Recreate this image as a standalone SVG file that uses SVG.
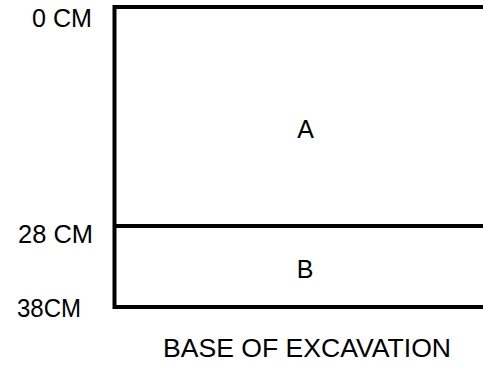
<svg xmlns="http://www.w3.org/2000/svg" width="483" height="366" viewBox="0 0 483 366">
<style>
.t{font-family:"Liberation Sans",Arial,sans-serif;font-size:25px;fill:#000}
.l{stroke:#000;stroke-width:4;fill:none}
</style>
<rect width="483" height="366" fill="#fff"/>
<g id="section">
<path class="l" d="M483,7 H114.5 V307 H483"/>
<path class="l" d="M114.5,226 H483" stroke-width="3.5"/>
</g>
<g id="layer-A"><text class="t" x="305.5" y="138" text-anchor="middle">A</text></g>
<g id="layer-B"><text class="t" x="305" y="278" text-anchor="middle">B</text></g>
<g id="labels">
<text class="t" x="32" y="27" textLength="60" lengthAdjust="spacingAndGlyphs">0 CM</text>
<text class="t" x="18" y="243" textLength="75" lengthAdjust="spacingAndGlyphs">28 CM</text>
<text class="t" x="17" y="317" textLength="64" lengthAdjust="spacingAndGlyphs">38CM</text>
<text class="t" x="163" y="357" textLength="288" lengthAdjust="spacingAndGlyphs">BASE OF EXCAVATION</text>
</g>
</svg>
